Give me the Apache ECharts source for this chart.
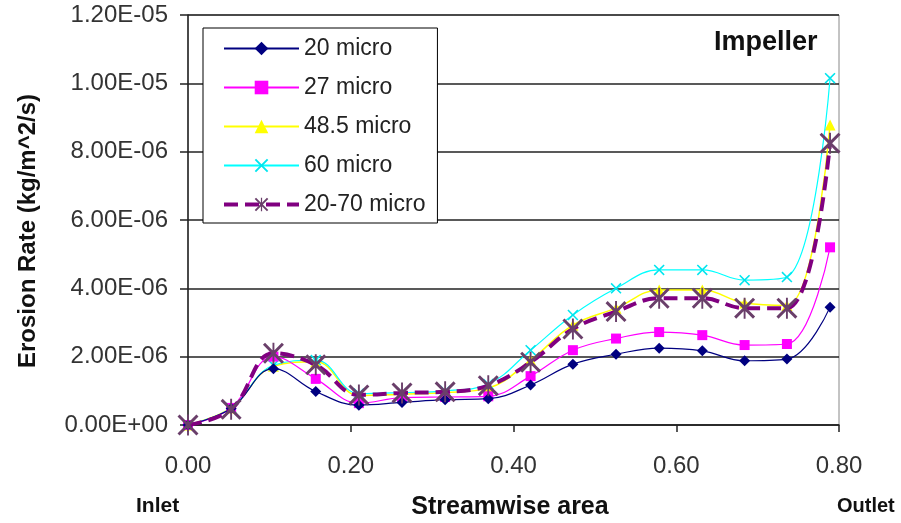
<!DOCTYPE html>
<html>
<head>
<meta charset="utf-8">
<script src="https://cdn.jsdelivr.net/npm/echarts@6/dist/echarts.min.js"></script>
<style>
  html, body { margin: 0; padding: 0; background: #fff; }
  #chart { width: 901px; height: 523px; }
</style>
</head>
<body>
<div id="chart"></div>
<script>
// Streamwise positions of the sampled sections (fraction of blade passage)
const positions = [0, 0.053, 0.105, 0.157, 0.210, 0.263, 0.316, 0.369, 0.421, 0.473, 0.526, 0.579, 0.632, 0.684, 0.736, 0.789];

// Erosion rate, in units of 1e-6 kg/m^2/s, for each particle size
const micro20   = [0, 0.48, 1.65, 0.98, 0.58, 0.66, 0.74, 0.77, 1.17, 1.78, 2.07, 2.25, 2.17, 1.88, 1.93, 3.45];
const micro27   = [0, 0.50, 2.00, 1.35, 0.64, 0.80, 0.82, 0.84, 1.43, 2.19, 2.53, 2.72, 2.63, 2.34, 2.37, 5.20];
const micro48_5 = [0, 0.50, 1.72, 1.85, 0.86, 0.90, 0.95, 1.08, 1.90, 2.92, 3.42, 3.95, 3.95, 3.57, 3.50, 8.78];
const micro60   = [0, 0.50, 1.75, 1.90, 0.92, 0.95, 1.00, 1.20, 2.19, 3.22, 4.00, 4.54, 4.54, 4.24, 4.33, 10.15];
const micro20_70 = [0, 0.46, 2.10, 1.76, 0.88, 0.94, 0.97, 1.15, 1.84, 2.81, 3.32, 3.71, 3.71, 3.42, 3.42, 8.25];

const seriesNames = ['20 micro', '27 micro', '48.5 micro', '60 micro', '20-70 micro'];
const UNIT = 1e-6;

const FONT = 'Liberation Sans, Arial, sans-serif';

// thin X cross and six-armed asterisk marker outlines
const crossPath = 'path://M0,1 L1,0 L5,4 L9,0 L10,1 L6,5 L10,9 L9,10 L5,6 L1,10 L0,9 L4,5 Z';
const starPath = 'path://M0,1 L1,0 L5,4 L9,0 L10,1 L6,5 L10,9 L9,10 L5,6 L1,10 L0,9 L4,5 Z M4.55,0 L5.45,0 L5.45,10 L4.55,10 Z';

const mixLine = { color: '#800080', width: 4, type: [14, 7] };

function sci(v) {
  if (Math.abs(v) < 1e-12) return '0.00E+00';
  let e = Math.floor(Math.log10(Math.abs(v)) + 1e-9);
  let m = v / Math.pow(10, e);
  if (m >= 9.995) { m /= 10; e += 1; }
  return m.toFixed(2) + 'E' + (e < 0 ? '-' : '+') + String(Math.abs(e)).padStart(2, '0');
}

function pairs(vals) {
  return positions.map((x, i) => [x, vals[i] * UNIT]);
}

const chart = echarts.init(document.getElementById('chart'), null, { renderer: 'canvas' });

const SMOOTH = 0.4;

chart.setOption({
  animation: false,
  backgroundColor: '#fff',
  grid: {
    left: 188, right: 62, top: 15, bottom: 98,
    outerBoundsMode: 'none', containLabel: false,
    show: true, borderColor: '#888', borderWidth: 1, backgroundColor: 'transparent'
  },
  legend: {
    orient: 'vertical',
    left: 203, top: 28,
    data: seriesNames.map((n, i) => i === 4
      ? { name: n, lineStyle: { width: 4, type: [14, 7] } }
      : { name: n }),
    backgroundColor: '#fff',
    borderColor: '#000',
    borderWidth: 1,
    padding: [9, 12, 7, 19],
    itemWidth: 75,
    itemHeight: 17,
    itemGap: 16,
    textStyle: { fontFamily: FONT, fontSize: 23, color: '#222' }
  },
  xAxis: {
    type: 'value', min: 0, max: 0.8, interval: 0.2,
    axisLine: { show: true, lineStyle: { color: '#222', width: 1.5 } },
    axisTick: { show: true, length: 7, lineStyle: { color: '#222', width: 1.5 } },
    axisLabel: { fontFamily: FONT, fontSize: 24, color: '#333', margin: 29, formatter: v => v.toFixed(2) },
    splitLine: { show: false }
  },
  yAxis: {
    type: 'value', min: 0, max: 12e-6, interval: 2e-6,
    axisLine: { show: true, lineStyle: { color: '#222', width: 1.5 } },
    axisTick: { show: true, length: 8, lineStyle: { color: '#222', width: 1.5 } },
    axisLabel: { fontFamily: FONT, fontSize: 24, color: '#333', margin: 20, formatter: sci },
    splitLine: { show: true, lineStyle: { color: '#222', width: 1.5 } }
  },
  graphic: [
    {
      type: 'text', x: 28, y: 231, rotation: Math.PI / 2,
      style: { text: 'Erosion Rate (kg/m^2/s)', fontFamily: FONT, fontSize: 24, fontWeight: 'bold', fill: '#111', align: 'center', verticalAlign: 'middle' }
    },
    {
      type: 'text', x: 510, y: 507,
      style: { text: 'Streamwise area', fontFamily: FONT, fontSize: 25, fontWeight: 'bold', fill: '#111', align: 'center', verticalAlign: 'middle' }
    },
    { type: 'text', left: 136, top: 496, style: { text: 'Inlet', fontFamily: FONT, fontSize: 21, fontWeight: 'bold', fill: '#111' } },
    { type: 'text', left: 837, top: 496, style: { text: 'Outlet', fontFamily: FONT, fontSize: 20, fontWeight: 'bold', fill: '#111' } },
    { type: 'text', left: 714, top: 29, style: { text: 'Impeller', fontFamily: FONT, fontSize: 27, fontWeight: 'bold', fill: '#111' } }
  ],
  series: [
    {
      name: seriesNames[0], type: 'line', smooth: SMOOTH, data: pairs(micro20),
      symbol: 'diamond', symbolSize: 11,
      lineStyle: { color: '#000080', width: 1.2 }, itemStyle: { color: '#000080' }, z: 5
    },
    {
      name: seriesNames[1], type: 'line', smooth: SMOOTH, data: pairs(micro27),
      symbol: 'rect', symbolSize: 10,
      lineStyle: { color: '#ff00ff', width: 1.2 }, itemStyle: { color: '#ff00ff' }, z: 4
    },
    {
      name: seriesNames[2], type: 'line', smooth: SMOOTH, data: pairs(micro48_5),
      symbol: 'triangle', symbolSize: 11,
      lineStyle: { color: '#ffff00', width: 1.5 }, itemStyle: { color: '#ffff00' }, z: 2
    },
    {
      name: seriesNames[3], type: 'line', smooth: SMOOTH, data: pairs(micro60),
      symbol: crossPath, symbolSize: 11,
      lineStyle: { color: '#00ffff', width: 1.2 }, itemStyle: { color: '#00e5ee' }, z: 3
    },
    {
      name: seriesNames[4], type: 'line', smooth: SMOOTH, data: pairs(micro20_70),
      symbol: starPath, symbolSize: 21,
      lineStyle: mixLine, itemStyle: { color: '#6a3f6a' }, z: 6
    }
  ]
});
</script>
</body>
</html>
